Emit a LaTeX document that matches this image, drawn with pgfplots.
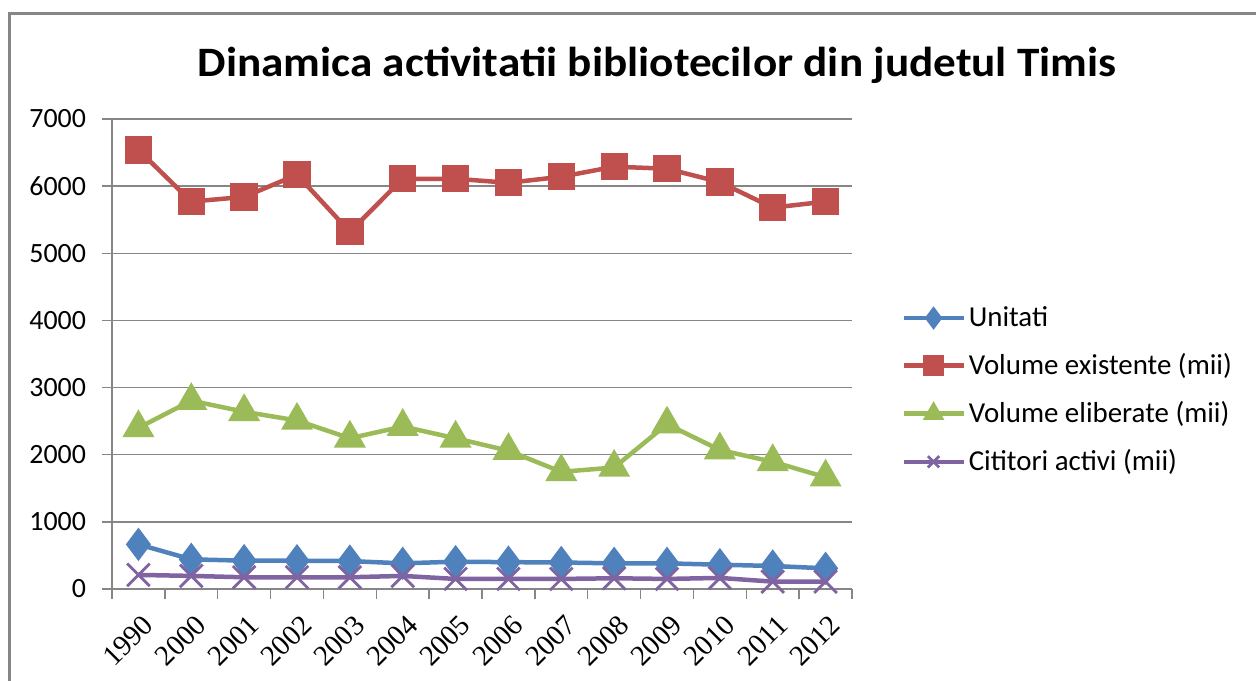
\documentclass[border=0pt]{standalone}
\usepackage{fontspec}
\setmainfont{Carlito}
\newfontfamily\titlefont{Carlito}[FakeStretch=1.08]
\newfontfamily\serifnum{Liberation Serif}
\usepackage{pgfplots}
\pgfplotsset{compat=1.18}
\definecolor{cblue}{HTML}{4F81BD}
\definecolor{cred}{HTML}{C0504D}
\definecolor{cgreen}{HTML}{9BBB59}
\definecolor{cpurple}{HTML}{8064A2}
\definecolor{cgrid}{HTML}{868686}
\begin{document}
\begin{tikzpicture}[x=1bp,y=1bp]
\useasboundingbox (0,0) rectangle (628,340);
\draw[cgrid, line width=1.5bp] (4.5,-10) -- (4.5,333) -- (650,333);
\node[font=\titlefont\bfseries\fontsize{21}{24}\selectfont] at (328.5,307.5) {Dinamica activitatii bibliotecilor din judetul Timis};
\begin{axis}[
  at={(56bp,45.5bp)}, anchor=south west,
  scale only axis, width=370bp, height=235bp,
  xmin=-0.5, xmax=13.5, ymin=0, ymax=7000,
  ytick={0,1000,...,7000},
  xtick={0,...,13},
  xticklabels={1990,2000,2001,2002,2003,2004,2005,2006,2007,2008,2009,2010,2011,2012},
  minor xtick={-0.5,0.5,...,13.5},
  axis x line*=bottom, axis y line*=left,
  axis line style={cgrid, line width=0.75bp},
  ymajorgrids, grid style={cgrid, line width=0.75bp},
  major tick length=5bp, minor tick length=5bp,
  tick align=outside,
  major x tick style={draw=none},
  minor x tick style={cgrid, line width=0.75bp},
  major y tick style={cgrid, line width=0.75bp},
  /pgf/number format/assume math mode=true,
  /pgf/number format/1000 sep={},
  yticklabel style={font=\fontsize{14}{16}\selectfont, xshift=-4.5bp},
  xticklabel style={font=\serifnum\fontsize{14.5}{16}\selectfont, rotate=45, anchor=east, xshift=-0.5bp, yshift=-11bp},
  legend image code/.code={\draw[mark repeat=2,mark phase=2,#1, mark size=4bp] plot coordinates {(0bp,0bp) (15bp,0bp) (30bp,0bp)};},
  legend style={at={(1.058,0.423)}, anchor=west, draw=none, fill=none,
    font=\fontsize{14.5}{17}\selectfont, row sep=9bp,
    nodes={inner sep=1.5bp}},
  legend cell align=left,
]
\addplot[cblue, line width=2.25bp, mark=diamond*, mark size=6.5bp, mark options={solid}] coordinates {
(0,665) (1,442) (2,422) (3,422) (4,416) (5,382) (6,407) (7,400) (8,395) (9,382) (10,382) (11,362) (12,343) (13,308)};
\addlegendentry{Unitati}
\addplot[cred, line width=2.25bp, mark=square*, mark size=5.7bp, mark options={solid}] coordinates {
(0,6540) (1,5770) (2,5840) (3,6170) (4,5320) (5,6110) (6,6110) (7,6050) (8,6140) (9,6290) (10,6260) (11,6060) (12,5680) (13,5770)};
\addlegendentry{Volume existente (mii)}
\addplot[cgreen, line width=2.25bp, mark=triangle*, mark size=7bp, mark options={solid}] coordinates {
(0,2400) (1,2805) (2,2640) (3,2510) (4,2245) (5,2420) (6,2245) (7,2060) (8,1745) (9,1810) (10,2455) (11,2070) (12,1895) (13,1665)};
\addlegendentry{Volume eliberate (mii)}
\addplot[cpurple, line width=2.25bp, mark=x, mark size=8bp, mark options={solid, line width=1.4bp}] coordinates {
(0,210) (1,195) (2,175) (3,175) (4,175) (5,195) (6,150) (7,150) (8,150) (9,160) (10,150) (11,165) (12,110) (13,110)};
\addlegendentry{Cititori activi (mii)}
\end{axis}
\end{tikzpicture}
\end{document}
